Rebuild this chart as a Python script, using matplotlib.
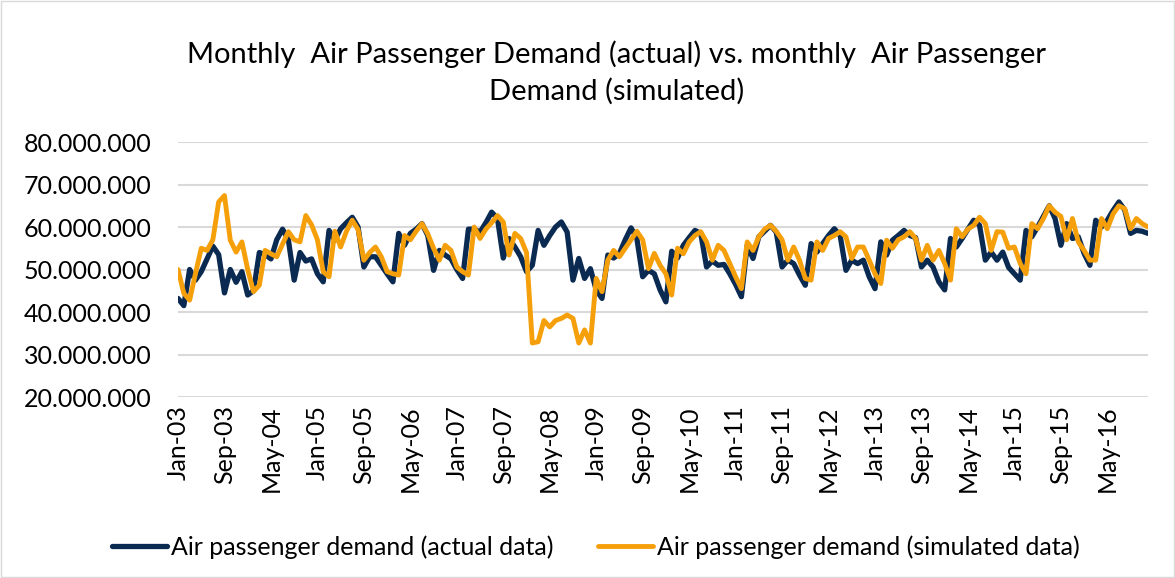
#%% Monthly air passenger demand: actual vs simulated
import pandas as pd
import numpy as np
import matplotlib.pyplot as plt
from matplotlib.ticker import FuncFormatter

# monthly values in millions of passengers, Jan-03 .. Dec-16
actual = [43.2, 41.5, 50.0, 47.5, 49.5, 52.5, 55.5, 53.5, 44.5, 50.0, 47.0, 49.5,
          44.0, 45.0, 54.0, 53.5, 52.5, 57.0, 59.5, 57.0, 47.5, 54.0, 52.0, 52.5,
          49.0, 47.1, 59.2, 56.9, 59.6, 61.0, 62.3, 60.0, 50.6, 53.0, 53.0, 51.0,
          49.0, 47.1, 58.5, 55.7, 58.5, 59.5, 60.8, 58.0, 49.8, 54.5, 53.4, 52.5,
          50.0, 47.9, 59.5, 59.5, 58.8, 61.0, 63.5, 62.0, 52.7, 57.3, 55.3, 53.0,
          49.5, 51.0, 59.2, 55.7, 58.0, 60.0, 61.2, 58.8, 47.5, 52.6, 47.9, 50.2,
          45.2, 43.2, 53.4, 52.7, 53.8, 57.0, 59.8, 57.3, 48.3, 49.8, 49.0, 45.2,
          42.4, 54.3, 52.7, 55.7, 57.5, 59.2, 58.5, 50.6, 52.0, 51.0, 51.2, 49.0,
          46.5, 43.6, 55.7, 52.6, 57.7, 59.0, 60.4, 58.8, 50.6, 52.2, 51.4, 48.7,
          46.3, 56.1, 54.1, 56.1, 58.0, 59.6, 58.0, 49.8, 52.2, 51.4, 52.2, 48.3,
          45.5, 56.5, 53.4, 56.9, 58.0, 59.2, 58.0, 57.5, 50.6, 52.2, 50.6, 47.1,
          45.2, 57.3, 55.3, 57.3, 59.5, 61.6, 60.4, 52.2, 54.1, 52.2, 54.1, 50.5,
          49.0, 47.5, 59.2, 57.7, 60.0, 62.5, 65.0, 62.0, 55.7, 60.8, 57.3, 57.7,
          53.8, 51.0, 61.6, 60.0, 61.6, 63.9, 65.9, 64.0, 58.5, 59.2, 59.0, 58.5]

simulated = [50.0, 44.4, 42.8, 49.0, 55.0, 54.5, 57.0, 65.9, 67.4, 56.9, 54.1, 56.5,
             50.0, 44.8, 46.3, 54.5, 53.7, 53.0, 56.0, 58.9, 57.0, 56.5, 62.7, 60.5,
             57.0, 49.5, 48.3, 59.0, 55.3, 59.0, 61.6, 59.4, 52.2, 54.0, 55.3, 53.0,
             49.5, 49.0, 48.7, 58.0, 57.0, 59.0, 60.8, 58.4, 55.0, 52.2, 55.7, 54.5,
             50.6, 49.5, 48.7, 60.0, 57.3, 59.5, 61.0, 62.7, 61.2, 53.4, 58.5, 57.3,
             54.0, 32.7, 33.0, 38.0, 36.5, 38.0, 38.5, 39.3, 38.5, 32.7, 35.8, 32.7,
             47.9, 44.8, 52.2, 54.5, 53.0, 55.0, 57.0, 59.0, 57.0, 50.2, 53.8, 51.0,
             49.0, 44.0, 55.0, 53.7, 56.5, 58.0, 58.9, 56.5, 52.2, 55.7, 54.5, 51.4,
             48.3, 45.5, 56.5, 54.5, 57.7, 59.5, 60.4, 59.0, 57.0, 52.2, 55.3, 52.2,
             47.9, 47.5, 56.5, 54.5, 57.3, 58.0, 58.9, 57.7, 52.6, 55.3, 55.3, 52.2,
             49.0, 46.7, 56.9, 55.0, 57.0, 57.7, 58.9, 57.3, 52.2, 55.7, 52.2, 54.5,
             51.4, 47.5, 59.6, 57.7, 59.5, 60.4, 62.3, 60.8, 54.5, 58.9, 58.8, 55.0,
             55.3, 51.4, 49.0, 60.8, 59.6, 62.0, 65.0, 63.5, 62.5, 57.0, 62.0, 56.5,
             54.5, 52.2, 52.2, 62.0, 59.6, 63.1, 65.0, 64.3, 59.6, 62.0, 60.8, 60.0]

months = pd.date_range('2003-01-01', periods=len(actual), freq='MS')
month_labels = [d.strftime('%b-%y') for d in months]
tick_step = 8

title = 'Monthly  Air Passenger Demand (actual) vs. monthly  Air Passenger\nDemand (simulated)'
label_actual = 'Air passenger demand (actual data)'
label_sim = 'Air passenger demand (simulated data)'

navy = '#0b2a52'
orange = '#f5a00a'

plt.rcParams['font.family'] = ['Lato', 'DejaVu Sans']

#%%
fig = plt.figure(figsize=(11.75, 5.78), dpi=100)
ax = fig.add_axes([0.1515, 0.3131, 0.977 - 0.1515, 0.7543 - 0.3131])

x = np.arange(len(actual))
ax.plot(x, np.array(actual) * 1e6, color=navy, lw=3.8, label=label_actual,
        solid_joinstyle='round', solid_capstyle='round')
ax.plot(x, np.array(simulated) * 1e6, color=orange, lw=3.5, label=label_sim,
        solid_joinstyle='round', solid_capstyle='round')

ax.set_xlim(0, len(actual) - 1)
ax.set_ylim(20e6, 80e6)
ax.set_yticks(np.arange(20e6, 80e6 + 1, 10e6))
ax.yaxis.set_major_formatter(FuncFormatter(lambda v, p: f'{v:,.0f}'.replace(',', '.')))
ax.set_xticks(x[::tick_step])
ax.set_xticklabels(month_labels[::tick_step], rotation=90)

ax.grid(axis='y', color='#d9d9d9', lw=1.5)
ax.set_axisbelow(True)
for s in ax.spines.values():
    s.set_visible(False)
ax.tick_params(axis='both', length=0, labelsize=18, colors='black')
ax.tick_params(axis='y', pad=19)
ax.tick_params(axis='x', pad=6)

fig.text(0.525, 0.875, title, ha='center', va='center', fontsize=21,
         linespacing=1.45)

fig.legend(loc='center', bbox_to_anchor=(0.507, 0.054), ncol=2, frameon=False,
           fontsize=18, handlelength=2.2, handletextpad=0.15, columnspacing=1.8)

# light chart border
fig.patches.append(plt.Rectangle((0.001, 0.001), 0.998, 0.998, transform=fig.transFigure,
                                 fill=False, edgecolor='#d9d9d9', lw=1))

plt.savefig('out.png', dpi=100)
